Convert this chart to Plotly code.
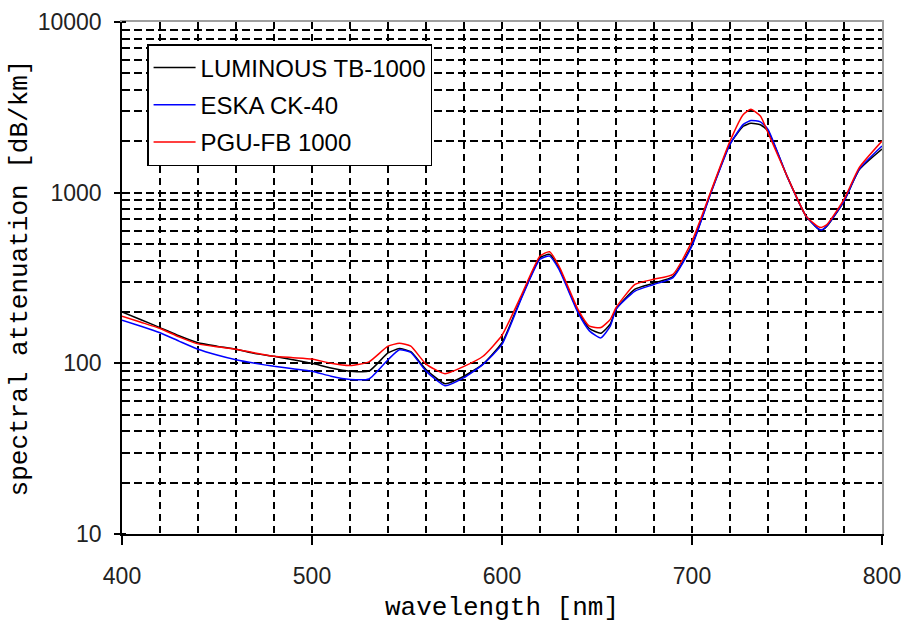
import plotly.graph_objects as go

wavelength = [400, 410, 420, 430, 440, 450, 460, 470, 480, 490, 500, 510, 520, 530, 540, 546, 552,
              560, 570, 580, 590, 600, 610, 620, 625, 630, 640, 646, 652, 657, 660, 670, 680, 690,
              700, 710, 720, 727, 731, 736, 740, 750, 760, 766, 768, 771, 780, 788, 800]

luminous = [200, 180, 162, 145, 132, 126, 121, 114, 110, 105, 100, 94, 90, 90, 115, 122, 117,
            92, 76, 84, 99, 132, 240, 415, 435, 362, 202, 160, 150, 170, 208, 272, 295, 322,
            495, 1005, 1930, 2450, 2550, 2500, 2300, 1250, 729, 618, 600, 635, 890, 1360, 1800]

eska = [179, 165, 151, 135, 121, 112, 105, 100, 96, 93, 90, 84, 80.5, 81, 105, 120, 116,
        90, 74, 82.5, 98.6, 129, 237, 407, 425, 355, 198, 155, 141, 165, 207, 265, 290, 318,
        487, 1000, 1919, 2513, 2650, 2600, 2349, 1250, 729, 620, 604, 640, 893, 1370, 1876]

pgu = [189, 174, 160, 143, 130, 125, 121, 115, 110, 108, 106, 100, 97, 102, 126, 131, 126,
       99, 87, 96, 110, 146, 248, 425, 451, 371, 207, 165, 162, 181, 212, 290, 311, 332,
       520, 1021, 2006, 2875, 3077, 2810, 2245, 1251, 729, 637, 625, 650, 914, 1401, 2006]

names = ["LUMINOUS TB-1000", "ESKA CK-40", "PGU-FB 1000"]
colors = ["#000000", "#0000ff", "#ff0000"]
series = [luminous, eska, pgu]

x_ticks = [400, 500, 600, 700, 800]
y_ticks = [10, 100, 1000, 10000]
y_ticktext = ["10", "100", "1000", "10000"]

fig = go.Figure()
for i, (nm, col, ys) in enumerate(zip(names, colors, series)):
    fig.add_trace(go.Scatter(x=wavelength, y=ys, mode="lines", name=nm,
                             legendgroup=f"g{i}",
                             line=dict(color=col, width=1.5, shape="spline", smoothing=0.5)))

# overlay axes for the grey top/right frame
fig.add_trace(go.Scatter(x=[400], y=[10], xaxis="x2", yaxis="y2", mode="markers",
                         marker=dict(opacity=0), showlegend=False, hoverinfo="skip"))

tick_font = dict(family="Liberation Sans, Arial, sans-serif", size=23, color="#222222")
title_font = dict(family="Liberation Mono, Courier New, monospace", size=26, color="#000000")
grid_col = "#000000"

fig.update_layout(
    width=905, height=623,
    margin=dict(l=122, r=23, t=22, b=89, autoexpand=False),
    paper_bgcolor="white", plot_bgcolor="white",
    showlegend=True,
    legend=dict(x=0.033, y=0.957, xanchor="left", yanchor="top",
                bgcolor="white", bordercolor="#000000", borderwidth=1.5,
                font=dict(family="Liberation Sans, Arial, sans-serif", size=24, color="#000000"),
                tracegroupgap=3, itemwidth=42),
    xaxis=dict(range=[400, 800], tickvals=x_ticks, ticktext=[str(v) for v in x_ticks],
               automargin=False,
               showline=True, linecolor="#000000", linewidth=1.5,
               ticks="outside", ticklen=9, tickwidth=1.5, tickcolor="#000000",
               showgrid=True, gridcolor=grid_col, gridwidth=1.6, griddash="7px,5px",
               minor=dict(dtick=20, tick0=400, showgrid=True, gridcolor=grid_col,
                          gridwidth=1.6, griddash="7px,5px", ticks=""),
               tickfont=tick_font, ticklabelstandoff=12,
               title=dict(text="wavelength [nm]", font=title_font, standoff=24),
               zeroline=False),
    yaxis=dict(type="log", range=[1, 4], tickvals=y_ticks, ticktext=y_ticktext,
               automargin=True,
               showline=True, linecolor="#000000", linewidth=1.5,
               ticks="outside", ticklen=6, tickwidth=1.5, tickcolor="#000000",
               showgrid=True, gridcolor=grid_col, gridwidth=1.6, griddash="8px,4px",
               minor=dict(dtick="D1", showgrid=True, gridcolor=grid_col, gridwidth=1.6,
                          griddash="8px,4px", ticks="inside", ticklen=4, tickcolor="#000000"),
               tickfont=tick_font, ticklabelstandoff=8,
               title=dict(text="spectral attenuation [dB/km]", font=title_font, standoff=3),
               zeroline=False),
    xaxis2=dict(overlaying="x", side="top", range=[400, 800], showline=True,
                linecolor="#a0a0a0", linewidth=1.5, showticklabels=False, ticks="",
                showgrid=False, zeroline=False, automargin=False),
    yaxis2=dict(overlaying="y", side="right", type="log", range=[1, 4], showline=True,
                linecolor="#a0a0a0", linewidth=1.5, showticklabels=False, ticks="",
                showgrid=False, zeroline=False, automargin=False),
)

# remove the browser's default 8px body margin so the 905x623 figure fills the window
fig.write_html("out.html", config={"displayModeBar": False},
               post_script="document.body.style.margin='0';document.body.style.overflow='hidden';")
